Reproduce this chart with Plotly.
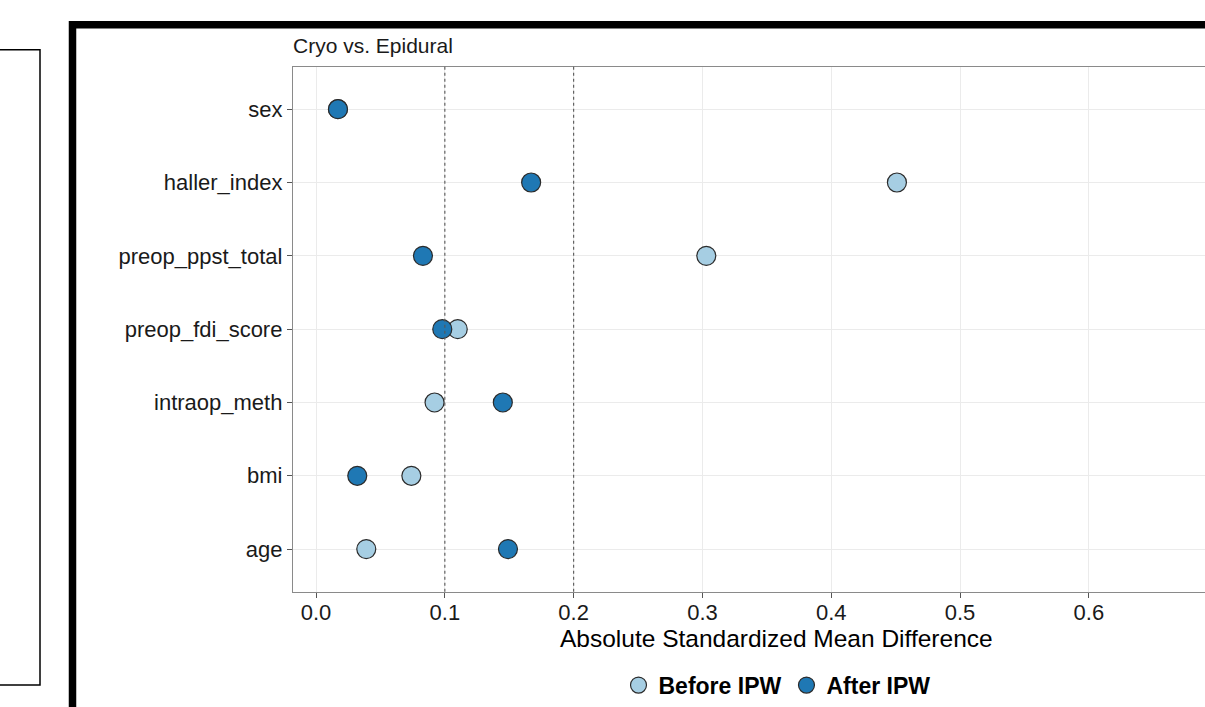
import plotly.graph_objects as go

# ---- data ----
covariates = ["age", "bmi", "intraop_meth", "preop_fdi_score",
              "preop_ppst_total", "haller_index", "sex"]
smd_before = [0.039, 0.074, 0.092, 0.110, 0.303, 0.451, 0.017]
smd_after = [0.149, 0.032, 0.145, 0.098, 0.083, 0.167, 0.017]
series_names = ["Before IPW", "After IPW"]
thresholds = [0.1, 0.2]
x_ticks = [0.0, 0.1, 0.2, 0.3, 0.4, 0.5, 0.6, 0.7]
panel_title = "Cryo vs. Epidural"
x_title = "Absolute Standardized Mean Difference"

W, H = 1205, 707
FONT = "Liberation Sans, Arial, Helvetica, sans-serif"

def px_x(p):
    return p / W

def px_y(p):
    return 1 - p / H

fig = go.Figure()
colors = ["#A6CEE3", "#1F78B4"]
for name, vals, col in zip(series_names, [smd_before, smd_after], colors):
    fig.add_trace(go.Scatter(
        x=vals, y=covariates, mode="markers", name=f"<b>{name}</b>",
        marker=dict(size=19, color=col, line=dict(color="#2b2b2b", width=1.2)),
        cliponaxis=False,
    ))

shapes = []
for t in thresholds:
    shapes.append(dict(type="line", xref="x", yref="paper", x0=t, x1=t,
                       y0=px_y(596), y1=px_y(67),
                       line=dict(color="#555555", width=1.1, dash="3px,3px"),
                       layer="above"))
# thick outer frame (cropped panel)
shapes.append(dict(type="rect", xref="paper", yref="paper",
                   x0=px_x(72.5), x1=px_x(1240), y0=px_y(25), y1=px_y(760),
                   line=dict(color="black", width=7.5), fillcolor="rgba(0,0,0,0)"))
# thin left frame
shapes.append(dict(type="rect", xref="paper", yref="paper",
                   x0=px_x(-20), x1=px_x(40), y0=px_y(50), y1=px_y(690),
                   line=dict(color="black", width=1.5), fillcolor="rgba(0,0,0,0)"))

fig.update_layout(
    width=W, height=H,
    margin=dict(l=0, r=0, t=0, b=0),
    paper_bgcolor="white", plot_bgcolor="white",
    font=dict(family=FONT, color="#1a1a1a"),
    shapes=shapes,
    showlegend=True,
    legend=dict(orientation="h", x=px_x(777), xanchor="center",
                y=px_y(690), yanchor="middle",
                font=dict(size=23, color="black", family=FONT),
                bgcolor="rgba(0,0,0,0)", itemwidth=30, tracegroupgap=0),
    annotations=[
        dict(text=panel_title, xref="paper", yref="paper",
             x=px_x(291), y=px_y(46), xanchor="left", yanchor="middle",
             showarrow=False, font=dict(size=21, color="#1a1a1a", family=FONT)),
        dict(text=x_title, xref="paper", yref="paper",
             x=px_x(776), y=px_y(643), xanchor="center", yanchor="middle",
             showarrow=False, font=dict(size=24.5, color="black", family=FONT)),
    ],
    xaxis=dict(
        domain=[px_x(293), 1.0], range=[-0.0179, 0.6902],
        tickvals=x_ticks, tickformat=".1f",
        tickfont=dict(size=22, color="#1a1a1a"),
        ticklabelstandoff=-4,
        showgrid=True, gridcolor="#EBEBEB", gridwidth=1.2,
        zeroline=False, showline=True, linecolor="#8a8a8a", linewidth=1.3,
        mirror=True, ticks="outside", ticklen=5, tickcolor="#555555",
        tickwidth=1.1, automargin=False, anchor="y",
    ),
    yaxis=dict(
        domain=[px_y(596), px_y(67)],
        type="category", categoryorder="array", categoryarray=covariates,
        range=[-0.582, 6.582],
        tickfont=dict(size=22, color="#1a1a1a"),
        showgrid=True, gridcolor="#EBEBEB", gridwidth=1.2,
        zeroline=False, showline=True, linecolor="#8a8a8a", linewidth=1.3,
        mirror=False, ticks="outside", ticklen=5, tickcolor="#555555",
        tickwidth=1.1, automargin=False, anchor="x",
    ),
)

fig.write_html("out.html", config={"displayModeBar": False},
               post_script="document.body.style.margin='0';document.body.style.overflow='hidden';")
